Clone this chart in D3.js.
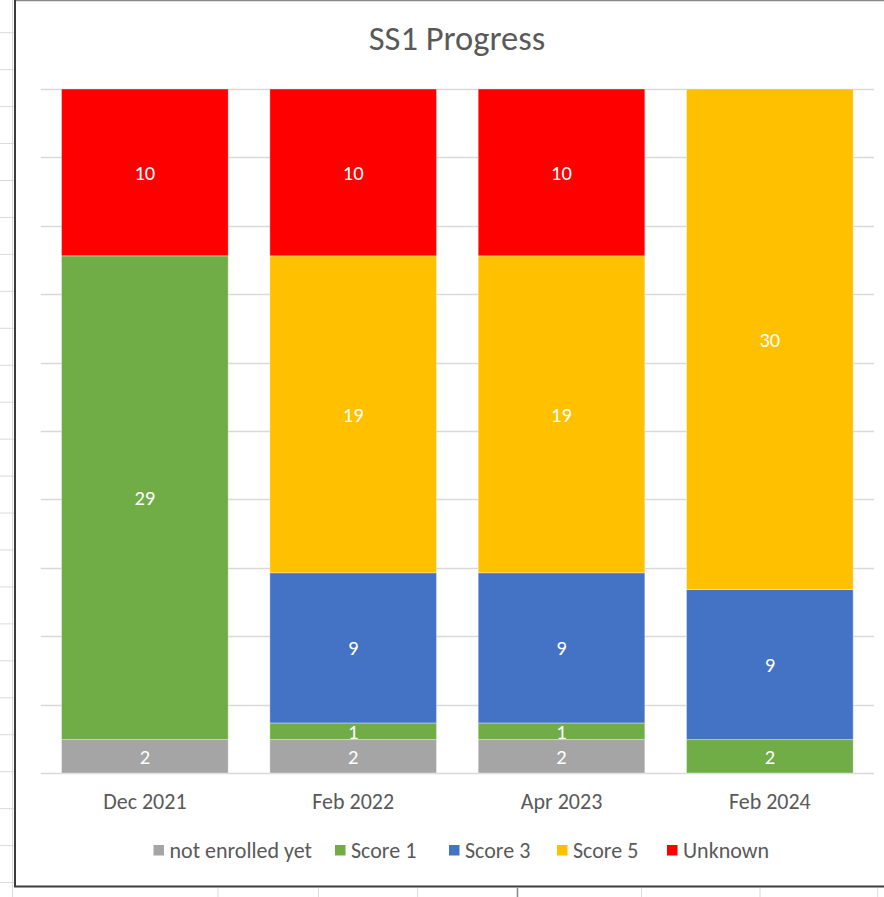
<!DOCTYPE html>
<html>
<head>
<meta charset="utf-8">
<script src="https://cdn.jsdelivr.net/npm/d3@7"></script>
<style>
  body { margin: 0; background: #fff; }
  svg text { font-family: Carlito, Calibri, Lato, sans-serif; }
</style>
</head>
<body>
<svg id="chart"></svg>
<script>
var width = 884, height = 897;

// categories and series (100% stacked columns)
var months = ["Dec 2021", "Feb 2022", "Apr 2023", "Feb 2024"];
var seriesNames = ["not enrolled yet", "Score 1", "Score 3", "Score 5", "Unknown"];
var notEnrolled = [2, 2, 2, 0];
var score1 = [29, 1, 1, 2];
var score3 = [0, 9, 9, 9];
var score5 = [0, 19, 19, 30];
var unknown = [10, 10, 10, 0];
var colors = ["#a5a5a5", "#70ad47", "#4472c4", "#ffc000", "#ff0000"];

var rows = months.map(function(m, i) {
  return {
    month: m,
    "not enrolled yet": notEnrolled[i],
    "Score 1": score1[i],
    "Score 3": score3[i],
    "Score 5": score5[i],
    "Unknown": unknown[i]
  };
});

var svg = d3.select("#chart").attr("width", width).attr("height", height);

/* ===== spreadsheet cells behind the chart ===== */
var sheet = svg.append("g").attr("stroke", "#dadada").attr("stroke-width", 1);
for (var ry = 32.7; ry < height; ry += 36.95) {
  sheet.append("line").attr("x1", 0).attr("x2", 14).attr("y1", ry).attr("y2", ry);
}
sheet.append("line").attr("x1", 12.5).attr("x2", 12.5).attr("y1", 0).attr("y2", height);
[218, 318.5, 417.7, 641.5, 760, 877.7].forEach(function(cx) {
  sheet.append("line").attr("x1", cx).attr("x2", cx).attr("y1", 888).attr("y2", height);
});
svg.append("line").attr("x1", 517.5).attr("x2", 517.5).attr("y1", 888).attr("y2", height)
  .attr("stroke", "#888").attr("stroke-width", 1.5);

/* ===== chart area ===== */
svg.append("rect").attr("x", 15).attr("y", 0).attr("width", width - 15).attr("height", 886)
  .attr("fill", "#fff");
svg.append("line").attr("x1", 15).attr("x2", width).attr("y1", 0.5).attr("y2", 0.5)
  .attr("stroke", "#8a8a8a").attr("stroke-width", 1.5);
svg.append("line").attr("x1", 15).attr("x2", 15).attr("y1", 0).attr("y2", 887)
  .attr("stroke", "#3c3c3c").attr("stroke-width", 2);
svg.append("line").attr("x1", 14).attr("x2", width).attr("y1", 886.5).attr("y2", 886.5)
  .attr("stroke", "#3c3c3c").attr("stroke-width", 2);

svg.append("text")
  .attr("x", 457).attr("y", 50)
  .attr("text-anchor", "middle")
  .attr("fill", "#595959")
  .style("font-size", "34.5px")
  .text("SS1 Progress");

var x = d3.scaleBand().domain(months).range([40.7, 874]).paddingInner(0.2).paddingOuter(0.1);
var y = d3.scaleLinear().domain([0, 1]).range([773, 89]);

// gridlines
svg.append("g")
  .selectAll("line")
  .data(y.ticks(10))
  .join("line")
  .attr("x1", 40.7).attr("x2", 874)
  .attr("y1", function(d) { return Math.round(y(d)) + 0.5; })
  .attr("y2", function(d) { return Math.round(y(d)) + 0.5; })
  .attr("stroke", "#d9d9d9").attr("stroke-width", 1.3);

var stack = d3.stack().keys(seriesNames).offset(d3.stackOffsetExpand);
var layers = stack(rows);

var layer = svg.append("g").selectAll("g")
  .data(layers)
  .join("g")
  .attr("fill", function(d, i) { return colors[i]; });

layer.selectAll("rect")
  .data(function(d) { return d.filter(function(p) { return p[1] > p[0]; }); })
  .join("rect")
  .attr("x", function(d) { return x(d.data.month); })
  .attr("width", x.bandwidth())
  .attr("y", function(d) { return y(d[1]); })
  .attr("height", function(d) { return y(d[0]) - y(d[1]); })
  .attr("stroke", "#fff").attr("stroke-opacity", 0.45).attr("stroke-width", 0.8);

// data labels
layers.forEach(function(s) {
  svg.append("g").selectAll("text")
    .data(s.filter(function(p) { return p[1] > p[0]; }))
    .join("text")
    .attr("x", function(d) { return x(d.data.month) + x.bandwidth() / 2; })
    .attr("y", function(d) { return (y(d[0]) + y(d[1])) / 2; })
    .attr("dy", "0.36em")
    .attr("text-anchor", "middle")
    .attr("fill", "#fff")
    .style("font-size", "20.5px")
    .text(function(d) { return d.data[s.key]; });
});

// category axis
var xAxis = svg.append("g")
  .attr("transform", "translate(0,773)")
  .call(d3.axisBottom(x).tickSize(0).tickPadding(20));
xAxis.select(".domain").remove();
xAxis.selectAll("text")
  .attr("fill", "#595959")
  .style("font-size", "22px")
  .style("font-family", "Carlito, Calibri, Lato, sans-serif");

// legend
var legendX = [153.5, 335, 449, 557, 667];
var legend = svg.append("g").selectAll("g")
  .data(seriesNames)
  .join("g")
  .attr("transform", function(d, i) { return "translate(" + legendX[i] + ",845)"; });
legend.append("rect").attr("width", 10.5).attr("height", 10.5)
  .attr("fill", function(d, i) { return colors[i]; });
legend.append("text")
  .attr("x", 16).attr("y", 5.5).attr("dy", "0.36em")
  .attr("fill", "#595959")
  .style("font-size", "22px")
  .text(function(d) { return d; });
</script>
</body>
</html>
